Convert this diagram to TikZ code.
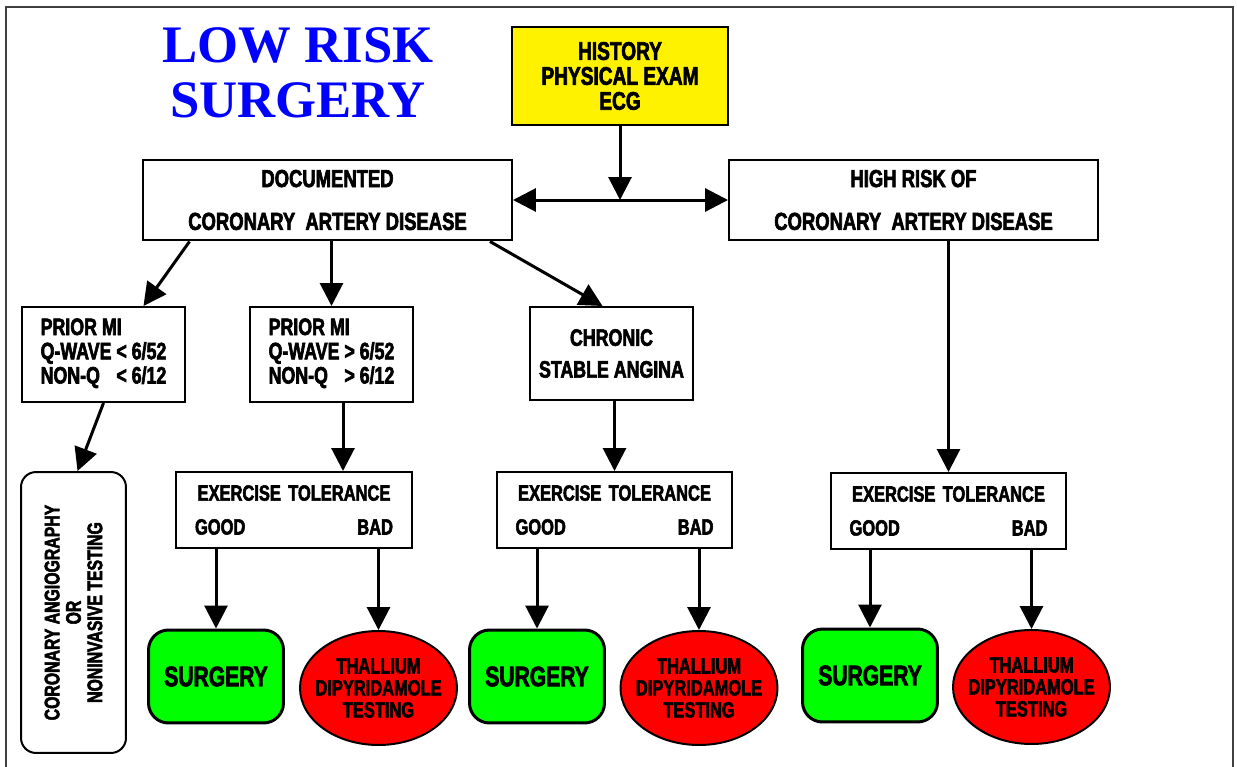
\documentclass[tikz,border=0pt]{standalone}
\usepackage{fontspec}
\setmainfont{Liberation Sans}[FakeStretch=0.75,BoldFeatures={FakeBold=2.5}]
\newfontfamily\titlefont{Liberation Serif}
\usetikzlibrary{arrows.meta,shapes.geometric}

\begin{document}
\begin{tikzpicture}[x=0.02cm,y=-0.02cm,->,line width=0.06cm,
    >={Triangle[length=0.46cm,width=0.46cm]},
    every node/.style={font=\bfseries,inner sep=0pt,align=center},
    box/.style={draw,line width=0.04cm},
    big/.style={box,minimum width=7.38cm,minimum height=1.62cm,
                font=\bfseries\fontsize{14}{24.4}\selectfont},
    mibox/.style={box,minimum width=3.28cm,minimum height=1.9cm,
                  font=\bfseries\fontsize{13.5}{13.4}\selectfont},
    exbox/.style={box,minimum width=4.72cm,minimum height=1.52cm,text width=3.96cm,
                  font=\bfseries\fontsize{12.5}{19.3}\selectfont},
    surg/.style={box,line width=0.06cm,rounded corners=0.4cm,fill=green,
                 minimum width=2.7cm,minimum height=1.86cm,
                 font=\bfseries\fontsize{16}{16}\selectfont},
    thal/.style={box,ellipse,fill=red,inner sep=-0.3cm,
                 minimum width=3.14cm,minimum height=2.28cm,
                 font=\bfseries\fontsize{12.5}{12.5}\selectfont}]
      \useasboundingbox (0,0) rectangle (1237,767);
      \draw[-,line width=0.05cm,black!75] (6,767) -- (6,7) -- (1233,7) -- (1233,767);

      \node[text=blue,font=\titlefont\bfseries\fontsize{30}{31}\selectfont] (title) at (298,73) {LOW RISK\\SURGERY};
      \node[box,fill=yellow,minimum width=4.32cm,minimum height=1.96cm,
            font=\bfseries\fontsize{14.5}{14.2}\selectfont] (hist) at (620,76) {HISTORY\\PHYSICAL EXAM\\ECG};
      \coordinate (mid) at (620,200);

      \node[big] (doc)  at (327.5,200) {DOCUMENTED\\CORONARY\ \ ARTERY DISEASE};
      \node[big] (high) at (913.5,200) {HIGH RISK OF\\CORONARY\ \ ARTERY DISEASE};

      \node[mibox] (mi1) at (103.5,354.5) {\begin{tabular}{@{}l@{\ }l@{}}\multicolumn{2}{@{}l@{}}{PRIOR MI}\\Q-WAVE &< 6/52\\NON-Q &< 6/12\end{tabular}};
      \node[mibox] (mi2) at (331.5,354.5) {\begin{tabular}{@{}l@{\ }l@{}}\multicolumn{2}{@{}l@{}}{PRIOR MI}\\Q-WAVE &> 6/52\\NON-Q &> 6/12\end{tabular}};
      \node[box,minimum width=3.26cm,minimum height=1.86cm,
            font=\bfseries\fontsize{13.5}{18.1}\selectfont] (angina) at (611.5,353.5) {CHRONIC\\STABLE ANGINA};

      \node[box,rounded corners=0.3cm,rotate=90,minimum width=5.62cm,minimum height=2.1cm,
            font=\bfseries\fontsize{12}{12.2}\selectfont] (cath) at (73.5,612.5) {CORONARY ANGIOGRAPHY\\OR\\NONINVASIVE TESTING};

      \node[exbox] (ex1) at (294,510)   {EXERCISE TOLERANCE\\GOOD\hspace{0pt plus 1filll}BAD};
      \node[exbox] (ex2) at (614.5,510) {EXERCISE TOLERANCE\\GOOD\hspace{0pt plus 1filll}BAD};
      \node[exbox] (ex3) at (948.5,511) {EXERCISE TOLERANCE\\GOOD\hspace{0pt plus 1filll}BAD};

      \node[surg] (surg1) at (216,676.5) {SURGERY};
      \node[surg] (surg2) at (537,676.5) {SURGERY};
      \node[surg] (surg3) at (870,675.5) {SURGERY};
      \node[thal] (thal1) at (378.5,688) {THALLIUM\\DIPYRIDAMOLE\\TESTING};
      \node[thal] (thal2) at (699,688)   {THALLIUM\\DIPYRIDAMOLE\\TESTING};
      \node[thal] (thal3) at (1031.5,687) {THALLIUM\\DIPYRIDAMOLE\\TESTING};

      \path
        (hist) edge (mid)
        (doc)  edge [<->] (high)
        ([xshift=-2.76cm]doc.south) edge ([xshift=0.8cm]mi1.north)
        (mi2.north |- doc.south) edge (mi2.north)
        ([xshift=3.25cm]doc.south) edge ([xshift=-0.18cm]angina.north)
        (mi1.south) edge ([xshift=0.08cm]cath.east)
        ([xshift=0.23cm]mi2.south) edge ([xshift=0.23cm]mi2.south |- ex1.north)
        ([xshift=0.06cm]angina.south) edge ([xshift=0.06cm]angina.south |- ex2.north)
        (ex3.north |- high.south) edge (ex3.north);
      \foreach \i in {1,2,3} {
        \path (surg\i.north |- ex\i.south) edge (surg\i.north)
              (thal\i.north |- ex\i.south) edge (thal\i.north);
      }
\end{tikzpicture}
\end{document}
